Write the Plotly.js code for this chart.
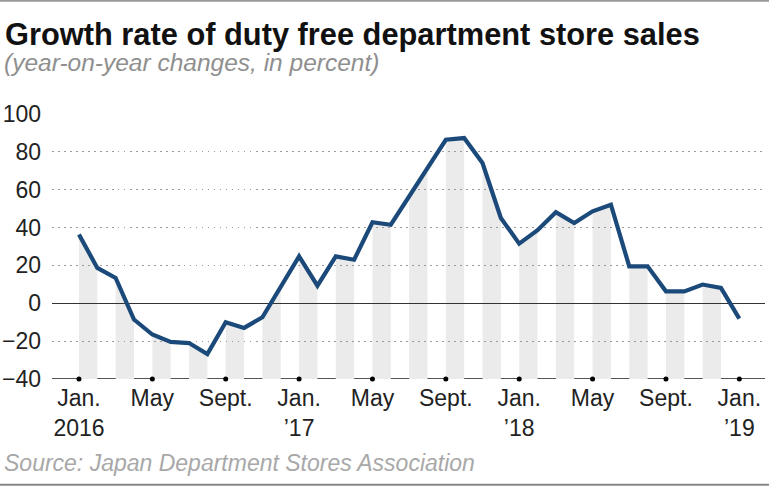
<!DOCTYPE html>
<html>
<head>
<meta charset="utf-8">
<script src="https://cdn.plot.ly/plotly-3.0.1.min.js"></script>
<style>html,body{margin:0;padding:0;background:#fff;}#chart{width:769px;height:487px;}</style>
</head>
<body>
<div id="chart"></div>
<script>
const months = ['2016-01','2016-02','2016-03','2016-04','2016-05','2016-06','2016-07','2016-08','2016-09','2016-10','2016-11','2016-12',
                '2017-01','2017-02','2017-03','2017-04','2017-05','2017-06','2017-07','2017-08','2017-09','2017-10','2017-11','2017-12',
                '2018-01','2018-02','2018-03','2018-04','2018-05','2018-06','2018-07','2018-08','2018-09','2018-10','2018-11','2018-12',
                '2019-01'];
const growth = [36.3, 18.7, 13.4, -8.6, -16.5, -20.4, -21.0, -26.8, -10.0, -13.0, -7.4, 9.0,
                24.8, 9.3, 24.8, 23.0, 42.8, 41.5, 56.5, 70.6, 86.4, 87.3, 74.1, 45.1,
                31.5, 38.6, 48.1, 42.4, 48.6, 52.1, 19.5, 19.5, 6.3, 6.3, 9.9, 8.1,
                -8.1];
const tickMonths = ['2016-01','2016-05','2016-09','2017-01','2017-05','2017-09','2018-01','2018-05','2018-09','2019-01'];
const tickLabels = ['Jan.<br>2016','May','Sept.','Jan.<br>\u201917','May','Sept.','Jan.<br>\u201918','May','Sept.','Jan.<br>\u201919'];
const yTicks = [-40, -20, 0, 20, 40, 60, 80, 100];
const yMin = -40, yMax = 100;

const xIdx = months.map((m, i) => i);
const tickIdx = tickMonths.map(m => months.indexOf(m));

// grey bands under the line, every other month
const shapes = [];
for (let i = 0; i + 1 < months.length; i += 2) {
  shapes.push({
    type: 'path', xref: 'x', yref: 'y', layer: 'below',
    path: `M ${i},${yMin} L ${i},${growth[i]} L ${i+1},${growth[i+1]} L ${i+1},${yMin} Z`,
    fillcolor: '#ebebeb', line: {width: 0}
  });
}
// baseline at -40
shapes.push({type: 'line', xref: 'paper', yref: 'y', x0: 0, x1: 1, y0: yMin, y1: yMin,
  layer: 'between', line: {color: '#555', width: 2}});
// frame rules top and bottom
shapes.push({type: 'line', xref: 'paper', yref: 'paper', x0: -0.08, x1: 1.01, y0: 1.4275, y1: 1.4275,
  line: {color: '#999', width: 2}});
shapes.push({type: 'line', xref: 'paper', yref: 'paper', x0: -0.08, x1: 1.01, y0: -0.399, y1: -0.399,
  line: {color: '#888', width: 2}});

const traces = [
  {x: xIdx, y: growth, type: 'scatter', mode: 'lines',
   line: {color: '#1b4a7a', width: 4.2}, hoverinfo: 'skip'},
  {x: tickIdx, y: tickIdx.map(() => yMin), type: 'scatter', mode: 'markers',
   marker: {color: '#000', size: 5}, cliponaxis: false, hoverinfo: 'skip'}
];

const pxX = p => (p - 52) / 713;
const pxY = p => (379 - p) / 265;

const layout = {
  width: 769, height: 487,
  margin: {l: 52, r: 4, t: 114, b: 108, pad: 0},
  paper_bgcolor: '#fff', plot_bgcolor: '#fff',
  showlegend: false,
  font: {family: 'Liberation Sans, Arial, sans-serif', color: '#222', size: 23},
  xaxis: {
    range: [-1.47, 37.4], showgrid: false, zeroline: false, showline: false,
    tickvals: tickIdx, ticktext: tickLabels, ticks: '', ticklabelstandoff: 3,
    tickfont: {size: 23, color: '#222'}, fixedrange: true
  },
  yaxis: {
    range: [yMin, yMax], tickvals: yTicks, ticks: '', ticklabelstandoff: 10,
    showgrid: true, gridcolor: '#9a9a9a', griddash: '1.5px,4.5px', gridwidth: 1.2,
    zeroline: true, zerolinecolor: '#333', zerolinewidth: 1.2, showline: false,
    tickfont: {size: 23, color: '#222'}, fixedrange: true
  },
  shapes: shapes,
  annotations: [
    {text: '<b>Growth rate of duty free department store sales</b>', xref: 'paper', yref: 'paper',
     x: pxX(3), y: pxY(34), xanchor: 'left', yanchor: 'middle', showarrow: false,
     font: {family: 'Liberation Sans, Arial, sans-serif', size: 30.8, color: '#111'}},
    {text: '<i>(year-on-year changes, in percent)</i>', xref: 'paper', yref: 'paper',
     x: pxX(2), y: pxY(62), xanchor: 'left', yanchor: 'middle', showarrow: false,
     font: {family: 'Liberation Sans, Arial, sans-serif', size: 24.5, color: '#8f8f8f'}},
    {text: '<i>Source: Japan Department Stores Association</i>', xref: 'paper', yref: 'paper',
     x: pxX(2), y: pxY(463), xanchor: 'left', yanchor: 'middle', showarrow: false,
     font: {family: 'Liberation Sans, Arial, sans-serif', size: 23, color: '#a8a8a8'}}
  ]
};

Plotly.newPlot('chart', traces, layout, {displayModeBar: false, staticPlot: true});
</script>
</body>
</html>
